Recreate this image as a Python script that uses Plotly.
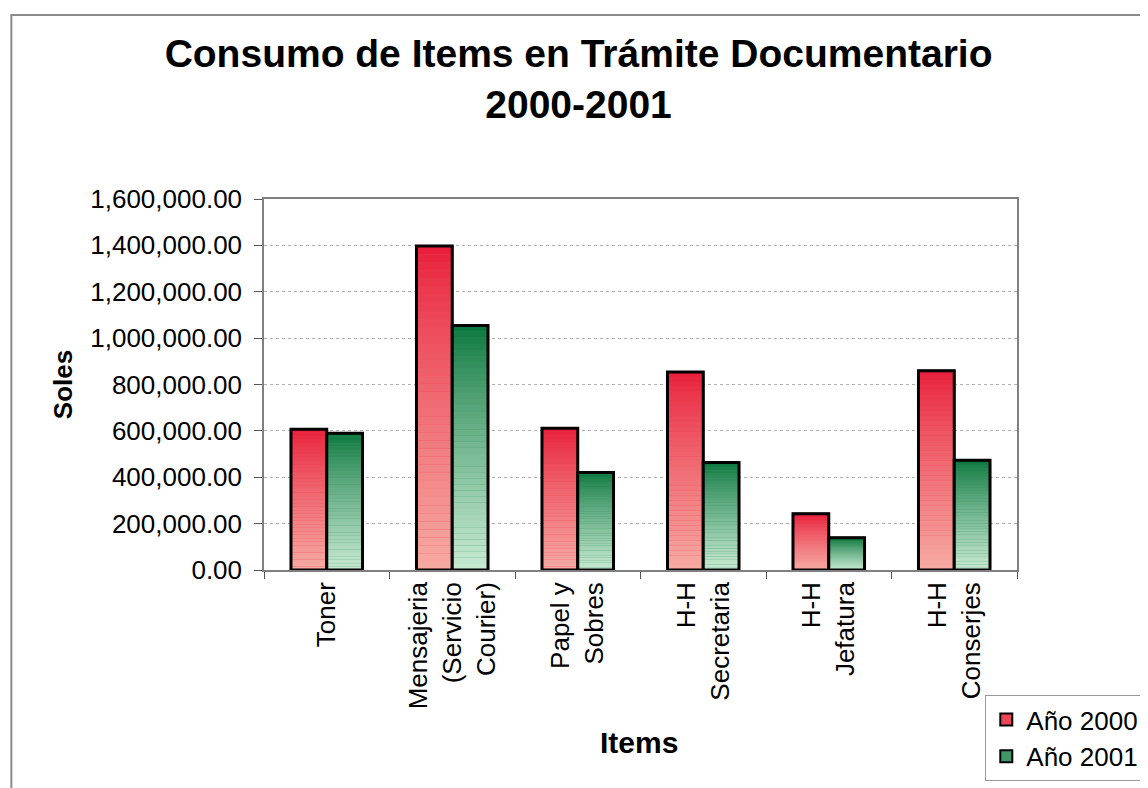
import plotly.graph_objects as go

categories = ["Toner", "Mensajeria<br>(Servicio<br>Courier)", "Papel y<br>Sobres",
              "H-H<br>Secretaria", "H-H<br>Jefatura", "H-H<br>Conserjes"]
anio_2000 = [607000, 1397000, 611000, 854000, 243000, 859000]
anio_2001 = [590000, 1054000, 421000, 464000, 139000, 473000]
y_ticks = [0, 200000, 400000, 600000, 800000, 1000000, 1200000, 1400000, 1600000]

FONT = "Liberation Sans, Arial, sans-serif"
N_STEPS = 40

# layout geometry (figure pixels)
ML, MR, MT, MB = 256, 132, 191, 226
W, H = 1148, 788
PW, PH = W - ML - MR, H - MT - MB


def lerp(c1, c2, t):
    return "rgb(%d,%d,%d)" % tuple(round(a + (b - a) * t) for a, b in zip(c1, c2))


def add_series(fig, name, values, top_col, bot_col, group):
    fig.add_trace(go.Bar(x=categories, y=values, name=name, offsetgroup=group,
                         marker=dict(color=lerp(top_col, bot_col, 0.3),
                                     line=dict(color="black", width=2)),
                         legendgroup=group))
    for k in range(N_STEPS):
        t = 1 - (k + 0.5) / N_STEPS
        fig.add_trace(go.Bar(x=categories, y=[v / N_STEPS for v in values],
                             base=[v * k / N_STEPS for v in values],
                             offsetgroup=group, showlegend=False, legendgroup=group,
                             marker=dict(color=lerp(top_col, bot_col, t ** 0.8), line=dict(width=0)),
                             hoverinfo="skip"))
    fig.add_trace(go.Bar(x=categories, y=values, offsetgroup=group, showlegend=False,
                         legendgroup=group,
                         marker=dict(color="rgba(0,0,0,0)", line=dict(color="black", width=3)),
                         hoverinfo="skip"))


fig = go.Figure()
add_series(fig, "Año 2000", anio_2000, (232, 28, 56), (246, 170, 162), "a")
add_series(fig, "Año 2001", anio_2001, (6, 116, 58), (200, 234, 210), "b")

fig.update_layout(
    width=W, height=H,
    paper_bgcolor="white", plot_bgcolor="white",
    barmode="group", bargap=0.43, bargroupgap=0,
    margin=dict(l=ML, r=MR, t=MT, b=MB),
    font=dict(family=FONT, color="black"),
    title=dict(text="<b>Consumo de Items en Trámite Documentario<br>2000-2001</b>",
               x=0.497, xanchor="center", y=0.925, yanchor="middle",
               font=dict(size=39, family=FONT, color="black")),
    legend=dict(x=(984 - ML) / PW, y=(H - MB - 687) / PH, xanchor="left", yanchor="top",
                bordercolor="#999999", borderwidth=1, bgcolor="white",
                font=dict(size=26, family=FONT), traceorder="normal",
                itemwidth=30, tracegroupgap=0),
    showlegend=True,
)

fig.update_yaxes(range=[0, 1600000], tickvals=y_ticks, tickformat=",.2f",
                 showgrid=True, gridcolor="#b0b0b0", griddash="dot", gridwidth=1,
                 showline=True, linecolor="#808080", linewidth=1.5, mirror=True,
                 ticks="outside", ticklen=8, tickcolor="#555555", ticklabelstandoff=7,
                 tickfont=dict(size=26, family=FONT, color="black"),
                 title=dict(text="<b>Soles</b>", font=dict(size=26, family=FONT), standoff=10),
                 zeroline=False)
fig.update_xaxes(tickangle=-90, tickson="boundaries", ticks="outside", ticklen=7,
                 tickcolor="#555555", showline=True, linecolor="#808080", linewidth=1.5,
                 mirror=True, tickfont=dict(size=26, family=FONT, color="black"))

# x-axis title, placed where the original sits
fig.add_annotation(text="<b>Items</b>", xref="paper", yref="paper",
                   x=(634 - ML) / PW, y=(H - MB - 734) / PH, xanchor="center", yanchor="middle",
                   showarrow=False, font=dict(size=30, family=FONT, color="black"))

# outer chart frame
fig.add_shape(type="rect", xref="paper", yref="paper",
              x0=(1 - ML) / PW, x1=(W + 20 - ML) / PW,
              y0=(H - MB - (H + 20)) / PH, y1=(H - MB - 7) / PH,
              line=dict(color="#8a8a8a", width=2), fillcolor="rgba(0,0,0,0)", layer="below")

fig.write_html("out.html")
